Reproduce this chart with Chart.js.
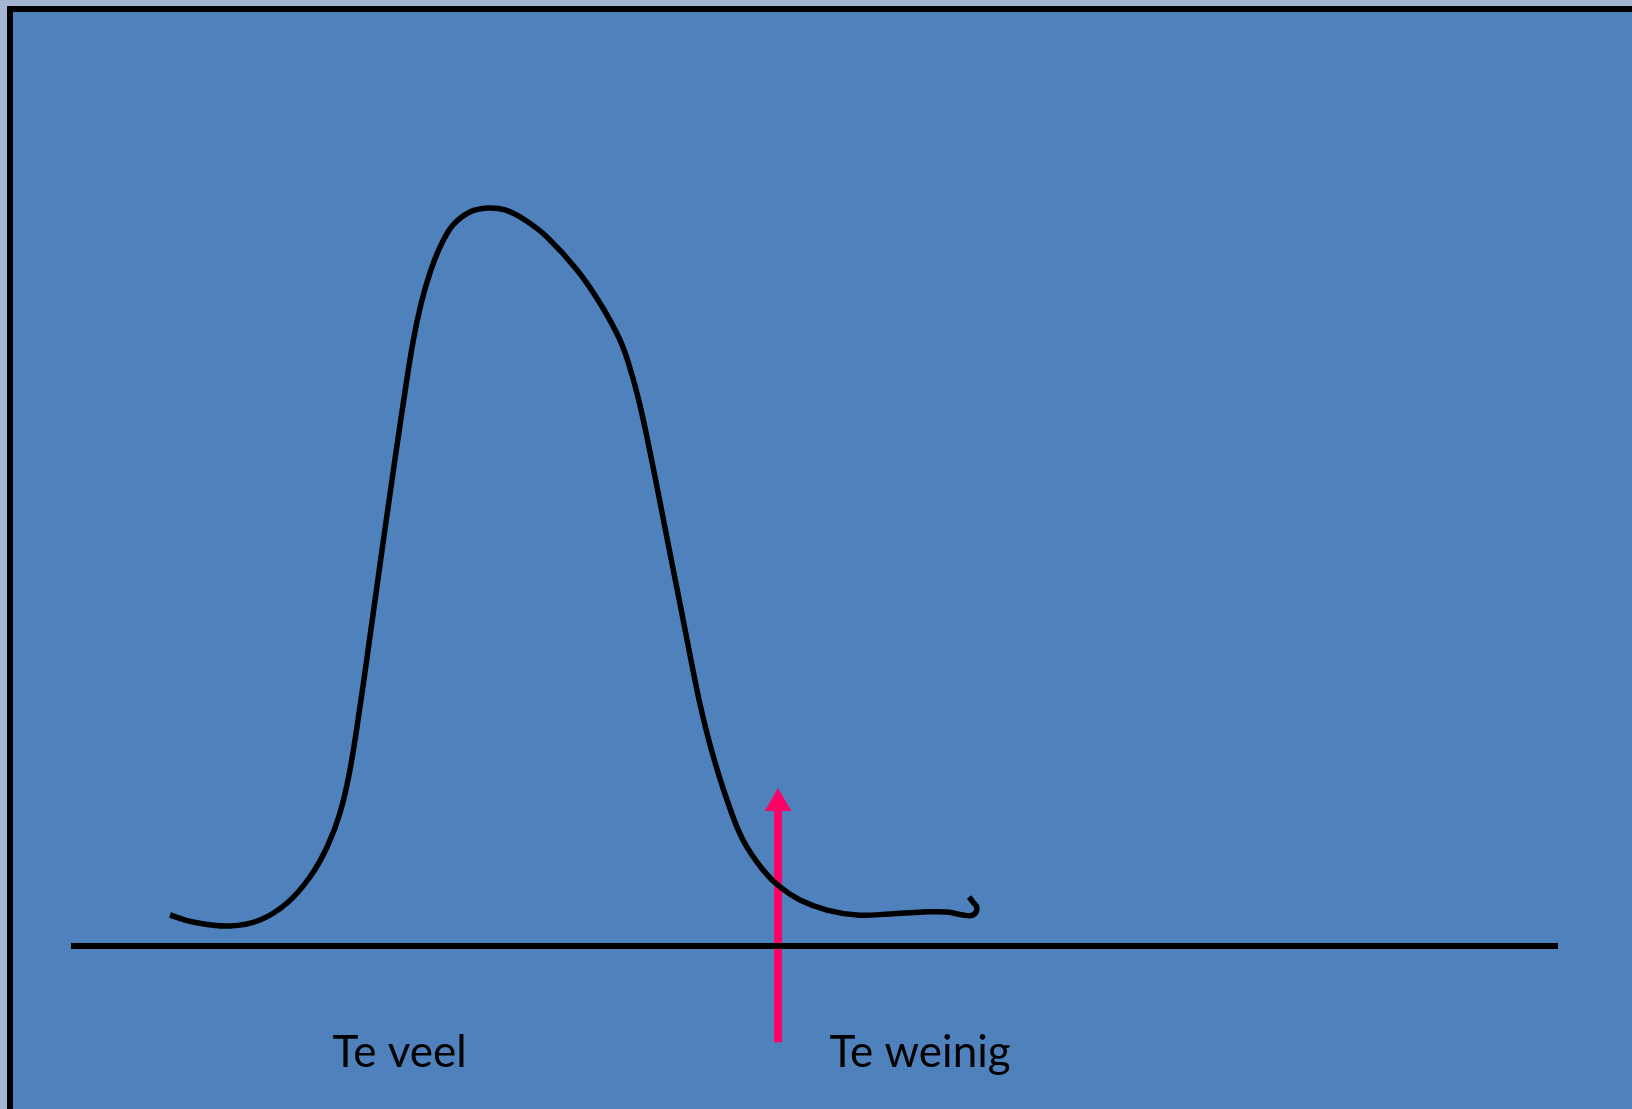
<!DOCTYPE html>
<html>
<head>
<meta charset="utf-8">
<script src="https://cdn.jsdelivr.net/npm/chart.js@4/dist/chart.umd.min.js"></script>
<style>
	body { margin: 0; background: #a4b6d4; overflow: hidden; }
	#frame {
		position: absolute; left: 7px; top: 6px; width: 1619px; height: 1097px;
		border-top: 6px solid #000; border-left: 6px solid #000;
		background: #4f81bd;
	}
	#wrap { position: absolute; left: 0; top: 0; width: 1632px; height: 1109px; }
</style>
</head>
<body>
<div id="frame"></div>
<div id="wrap"><canvas id="chart"></canvas></div>
<script>
// the hand drawn curve, x along the base line (0..100), y above it
const curveX = [6.66, 8.2, 10.69, 12.71, 14.53, 16.07, 17.22, 18.09, 18.76, 19.5, 20.11, 20.71, 21.32, 21.86, 22.46, 23.0, 23.54, 24.14, 24.82, 25.69, 26.83, 28.04, 29.19, 30.53, 32.01, 34.03, 35.57, 36.92, 37.59, 38.26, 38.94, 39.61, 40.28, 40.96, 41.63, 42.3, 43.11, 44.12, 45.19, 46.54, 47.68, 49.02, 50.84, 52.86, 55.08, 57.3, 58.91, 59.99, 60.66, 60.93, 60.66, 60.39]
const curveY = [3.32, 2.57, 2.14, 2.78, 4.6, 7.39, 10.6, 14.24, 18.84, 26.34, 33.19, 40.04, 46.9, 52.89, 59.31, 64.67, 68.74, 72.06, 74.84, 77.19, 78.59, 79.01, 78.8, 77.73, 75.91, 72.38, 68.84, 64.88, 61.88, 57.92, 52.89, 47.54, 42.08, 36.62, 31.16, 25.91, 20.77, 15.63, 11.35, 8.14, 6.32, 4.93, 3.85, 3.32, 3.43, 3.64, 3.64, 3.32, 3.32, 4.07, 4.71, 5.25]

const baseX = [0, 100]
const baseY = [0, 0]

const arrowX = [47.55, 47.55]
const arrowY = [-10.3, 14.6]
const arrowHeadY = 15.28

const labels = ["Te veel", "Te weinig"]
const labelX = [22.1, 57.1]
const labelY = -12.95

function toPoints(xs, ys) {
	return xs.map((x, i) => ({ x: x, y: ys[i] }))
}

const labelPlugin = {
	id: "labels",
	afterDatasetsDraw(chart) {
		let ctx = chart.ctx
		let xs = chart.scales.x
		let ys = chart.scales.y
		ctx.save()
		ctx.fillStyle = "#000000"
		ctx.font = "44px Lato"
		ctx.textAlign = "center"
		ctx.textBaseline = "alphabetic"
		for(let i = 0; i < labels.length; i++) {
			ctx.fillText(labels[i], xs.getPixelForValue(labelX[i]), ys.getPixelForValue(labelY))
		}
		ctx.restore()
	}
}

let chart = new Chart(document.getElementById("chart"), {
	type: "scatter",
	data: {
		datasets: [{
			data: toPoints(baseX, baseY),
			showLine: true,
			borderColor: "#000000",
			borderWidth: 6,
			pointRadius: 0
		}, {
			data: toPoints(curveX, curveY),
			showLine: true,
			borderColor: "#000000",
			borderWidth: 5.5,
			tension: 0.4,
			borderCapStyle: "butt",
			pointRadius: 0
		}, {
			data: toPoints(arrowX, arrowY),
			showLine: true,
			borderColor: "#ff0066",
			borderWidth: 8,
			borderCapStyle: "butt",
			pointRadius: 0
		}, {
			data: [{ x: arrowX[1], y: arrowHeadY }],
			pointStyle: "triangle",
			pointRadius: 15.3,
			pointBorderWidth: 0,
			backgroundColor: "#ff0066",
			borderColor: "#ff0066"
		}]
	},
	options: {
		responsive: true,
		maintainAspectRatio: false,
		animation: false,
		events: [],
		layout: { padding: 0, autoPadding: false },
		plugins: {
			legend: { display: false },
			tooltip: { enabled: false }
		},
		scales: {
			x: { type: "linear", display: false, min: -4.775, max: 104.98 },
			y: { type: "linear", display: false, min: -17.45, max: 101.28 }
		}
	},
	plugins: [labelPlugin]
})
</script>
</body>
</html>
